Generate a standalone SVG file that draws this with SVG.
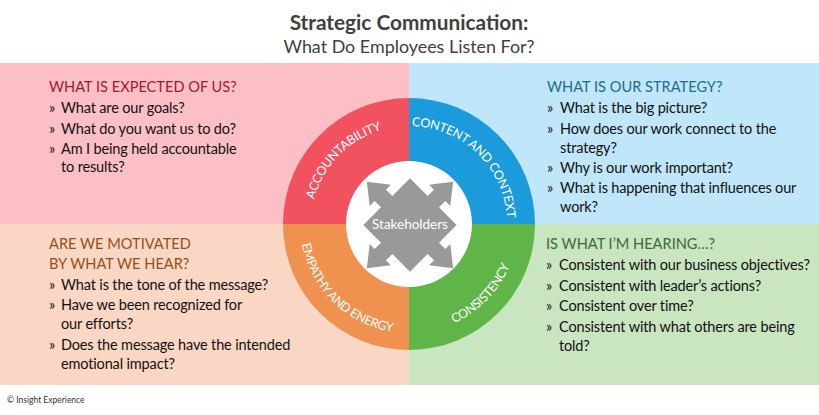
<svg xmlns="http://www.w3.org/2000/svg" width="819" height="415" viewBox="0 0 819 415">
<defs>
<style>
.t{font-family:Lato,"Liberation Sans",sans-serif}
.title{font-size:20.8px;font-weight:bold;fill:#404040;text-anchor:middle}
.sub{font-size:17.9px;fill:#404040;text-anchor:middle}
.h{font-size:14.6px}
.b{font-size:14.5px;letter-spacing:-0.15px;fill:#111}
.ring{font-size:12.5px;letter-spacing:-0.3px;fill:#fff;text-anchor:middle}
.foot{font-size:8.5px;fill:#333}
</style>
<path id="arcTop" d="M311,224 A98,98 0 0 1 507,224"/>
<path id="arcBot" d="M300,224 A109,109 0 0 0 518,224"/>
</defs>
<rect width="819" height="415" fill="#fff"/>
<g id="title">
<text class="t title" x="409" y="30">Strategic Communication:</text>
<text class="t sub" x="409" y="53">What Do Employees Listen For?</text>
</g>
<g id="quadrant-expected">
<rect x="0" y="63" width="409" height="161" fill="#fcbfc6"/>
<text class="t h" x="49" y="92" fill="#9f1b2b">WHAT IS EXPECTED OF US?</text>
<text class="t b" x="49" y="113"><tspan>»</tspan><tspan x="61">What are our goals?</tspan></text>
<text class="t b" x="49" y="134"><tspan>»</tspan><tspan x="61">What do you want us to do?</tspan></text>
<text class="t b" x="49" y="154"><tspan>»</tspan><tspan x="61">Am I being held accountable</tspan><tspan x="61" y="172">to results?</tspan></text>
</g>
<g id="quadrant-strategy">
<rect x="409" y="63" width="410" height="161" fill="#bfe6f9"/>
<text class="t h" x="547" y="92" fill="#1e6b8c">WHAT IS OUR STRATEGY?</text>
<text class="t b" x="547" y="113"><tspan>»</tspan><tspan x="560">What is the big picture?</tspan></text>
<text class="t b" x="547" y="134"><tspan>»</tspan><tspan x="560">How does our work connect to the</tspan><tspan x="560" y="152.5">strategy?</tspan></text>
<text class="t b" x="547" y="173"><tspan>»</tspan><tspan x="560">Why is our work important?</tspan></text>
<text class="t b" x="547" y="193"><tspan>»</tspan><tspan x="560">What is happening that influences our</tspan><tspan x="560" y="211.5">work?</tspan></text>
</g>
<g id="quadrant-motivated">
<rect x="0" y="224" width="409" height="161" fill="#fad7c4"/>
<text class="t h" x="49" y="249" fill="#954f1c">ARE WE MOTIVATED</text>
<text class="t h" x="49" y="268.5" fill="#954f1c">BY WHAT WE HEAR?</text>
<text class="t b" x="49" y="290"><tspan>»</tspan><tspan x="61">What is the tone of the message?</tspan></text>
<text class="t b" x="49" y="310"><tspan>»</tspan><tspan x="61">Have we been recognized for</tspan><tspan x="61" y="328.5">our efforts?</tspan></text>
<text class="t b" x="49" y="350"><tspan>»</tspan><tspan x="61">Does the message have the intended</tspan><tspan x="61" y="368.5">emotional impact?</tspan></text>
</g>
<g id="quadrant-hearing">
<rect x="409" y="224" width="410" height="161" fill="#c9e6c1"/>
<text class="t h" x="546" y="249" fill="#3d6a33">IS WHAT I’M HEARING…?</text>
<text class="t b" x="546" y="269.5"><tspan>»</tspan><tspan x="559">Consistent with our business objectives?</tspan></text>
<text class="t b" x="546" y="290.5"><tspan>»</tspan><tspan x="559">Consistent with leader’s actions?</tspan></text>
<text class="t b" x="546" y="311"><tspan>»</tspan><tspan x="559">Consistent over time?</tspan></text>
<text class="t b" x="546" y="332"><tspan>»</tspan><tspan x="559">Consistent with what others are being</tspan><tspan x="559" y="351">told?</tspan></text>
</g>
<g id="ring">
<path d="M409,224 L283,224 A126,126 0 0 1 409,98 Z" fill="#f2525f"/>
<path d="M409,224 L409,98 A126,126 0 0 1 535,224 Z" fill="#1b9bdb"/>
<path d="M409,224 L535,224 A126,126 0 0 1 409,350 Z" fill="#5fb547"/>
<path d="M409,224 L409,350 A126,126 0 0 1 283,224 Z" fill="#ef914f"/>
<circle cx="409" cy="224" r="63" fill="#fff"/>
<text class="t ring"><textPath href="#arcTop" startOffset="24.5%">ACCOUNTABILITY</textPath></text>
<text class="t ring"><textPath href="#arcTop" startOffset="74.5%">CONTENT AND CONTEXT</textPath></text>
<text class="t ring"><textPath href="#arcBot" startOffset="25.5%">EMPATHY AND ENERGY</textPath></text>
<text class="t ring"><textPath href="#arcBot" startOffset="75.5%">CONSISTENCY</textPath></text>
</g>
<g id="stakeholders">
<path transform="translate(410,225) rotate(45)" fill="#999" d="M33,-8 L42,-8 L42,-15 L61,0 L42,15 L42,8 L33,8 L33,33 L8,33 L8,42 L15,42 L0,61 L-15,42 L-8,42 L-8,33 L-33,33 L-33,8 L-42,8 L-42,15 L-61,0 L-42,-15 L-42,-8 L-33,-8 L-33,-33 L-8,-33 L-8,-42 L-15,-42 L0,-61 L15,-42 L8,-42 L8,-33 L33,-33 Z"/>
<text class="t" x="410" y="229" font-size="13.5" fill="#fff" text-anchor="middle">Stakeholders</text>
</g>
<g id="connectors"></g>
<text class="t foot" x="7" y="403">© Insight Experience</text>
</svg>
